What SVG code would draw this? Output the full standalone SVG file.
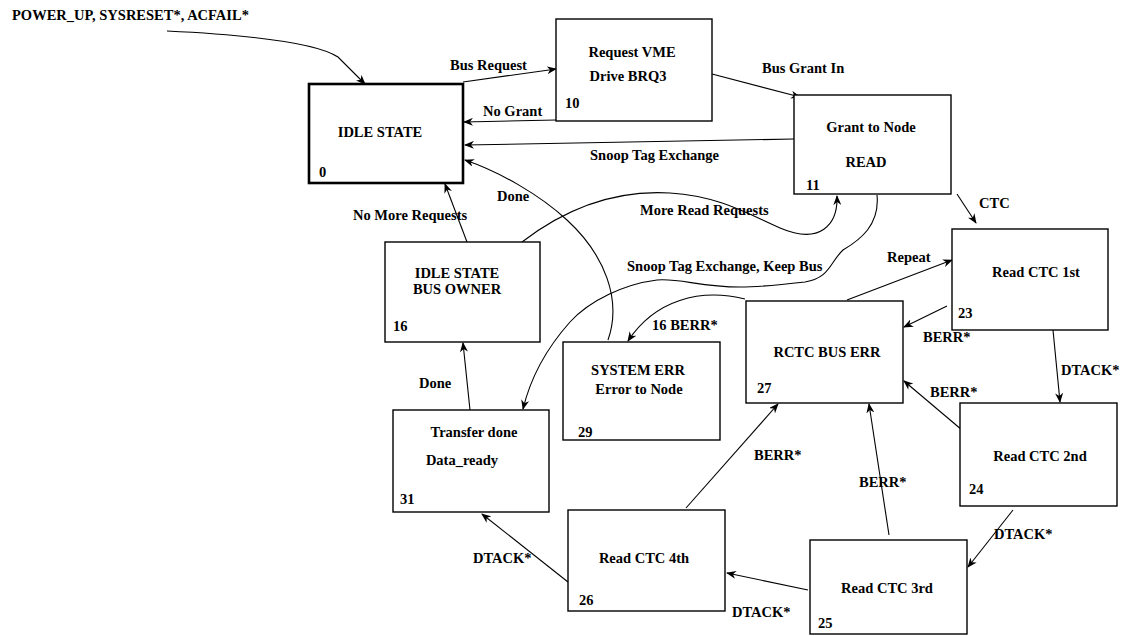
<svg xmlns="http://www.w3.org/2000/svg" width="1132" height="636" viewBox="0 0 1132 636">
<style>
.box{fill:#fff;stroke:#000;stroke-width:1.4}
.thick{stroke-width:2.6}
text{font-family:"Liberation Serif","Times New Roman",serif;font-weight:bold;font-size:14.5px;fill:#000}
.c{text-anchor:middle}
.e{fill:none;stroke:#000;stroke-width:1.1;marker-end:url(#ah)}
</style>
<defs>
<marker id="ah" viewBox="0 0 10 8" refX="9" refY="4" markerWidth="10" markerHeight="8" markerUnits="userSpaceOnUse" orient="auto">
<path d="M0,0 L10,4 L0,8 L3,4 z" fill="#000"/>
</marker>
</defs>
<rect width="1132" height="636" fill="#fff"/>
<g id="connectors">
<path class="e" d="M167,31 C250,35 315,42 338,57 L365,84"/>
<path class="e" d="M463,82 L556,69"/>
<path class="e" d="M556,120 L464,122"/>
<path class="e" d="M794,139 L465,145"/>
<path class="e" d="M712,74 L800,97"/>
<path class="e" d="M957,194 L976,223"/>
<path class="e" d="M608,340 C622,300 605,255 567,220 C540,195 500,172 465,160"/>
<path class="e" d="M467,242 L445,184"/>
<path class="e" d="M522,242 C570,205 620,190 670,193 C720,196 750,215 780,228 C820,245 838,225 837,196"/>
<path class="e" d="M877,195 C880,225 860,240 843,250 C830,262 830,278 805,282 C770,286 760,287 740,287 C700,287 680,278 657,280 C625,284 590,300 570,322 C545,350 530,380 523,409"/>
<path class="e" d="M745,299 C700,288 655,300 628,341"/>
<path class="e" d="M847,300 L952,260"/>
<path class="e" d="M947,306 L904,327"/>
<path class="e" d="M1053,330 L1060,402"/>
<path class="e" d="M962,430 L904,381"/>
<path class="e" d="M889,535 L869,404"/>
<path class="e" d="M1013,510 L968,567"/>
<path class="e" d="M808,590 L727,573"/>
<path class="e" d="M686,508 L778,404"/>
<path class="e" d="M568,582 L482,514"/>
<path class="e" d="M470,410 L463,343"/>
</g>
<g id="labels">
<text x="12" y="20">POWER_UP, SYSRESET*, ACFAIL*</text>
<text x="450" y="70">Bus Request</text>
<text x="483" y="116">No Grant</text>
<text x="590" y="160">Snoop Tag Exchange</text>
<text x="762" y="73">Bus Grant In</text>
<text x="979" y="208">CTC</text>
<text x="497" y="201">Done</text>
<text x="353" y="220">No More Requests</text>
<text x="640" y="215">More Read Requests</text>
<text x="627" y="271">Snoop Tag Exchange, Keep Bus</text>
<text x="887" y="262">Repeat</text>
<text x="923" y="342">BERR*</text>
<text x="652" y="330">16 BERR*</text>
<text x="1061" y="375">DTACK*</text>
<text x="930" y="397">BERR*</text>
<text x="859" y="487">BERR*</text>
<text x="994" y="539">DTACK*</text>
<text x="732" y="617">DTACK*</text>
<text x="754" y="460">BERR*</text>
<text x="473" y="563">DTACK*</text>
<text x="419" y="388">Done</text>
</g>
<g id="n0"><rect class="box thick" x="309" y="84" width="154" height="99"/><text class="c" x="380" y="137">IDLE STATE</text><text x="319" y="177">0</text></g>
<g id="n10"><rect class="box" x="556" y="19" width="156" height="102"/><text class="c" x="632" y="57">Request VME</text><text class="c" x="628" y="81">Drive BRQ3</text><text x="565" y="108">10</text></g>
<g id="n11"><rect class="box" x="794" y="95" width="157" height="99"/><text class="c" x="871" y="132">Grant to Node</text><text class="c" x="866" y="167">READ</text><text x="806" y="190">11</text></g>
<g id="n23"><rect class="box" x="952" y="229" width="156" height="101"/><text class="c" x="1036" y="277">Read CTC 1st</text><text x="958" y="318">23</text></g>
<g id="n16"><rect class="box" x="385" y="242" width="155" height="100"/><text class="c" x="457" y="278">IDLE STATE</text><text class="c" x="457" y="294">BUS OWNER</text><text x="393" y="331">16</text></g>
<g id="n29"><rect class="box" x="563" y="342" width="157" height="98"/><text class="c" x="638" y="375">SYSTEM ERR</text><text class="c" x="639" y="394">Error to Node</text><text x="578" y="437">29</text></g>
<g id="n27"><rect class="box" x="746" y="301" width="157" height="102"/><text class="c" x="827" y="357">RCTC BUS ERR</text><text x="757" y="393">27</text></g>
<g id="n31"><rect class="box" x="393" y="410" width="156" height="102"/><text class="c" x="474" y="437">Transfer done</text><text class="c" x="462" y="465">Data_ready</text><text x="400" y="504">31</text></g>
<g id="n24"><rect class="box" x="960" y="403" width="157" height="103"/><text class="c" x="1040" y="461">Read CTC 2nd</text><text x="969" y="494">24</text></g>
<g id="n25"><rect class="box" x="810" y="540" width="157" height="94"/><text class="c" x="887" y="593">Read CTC 3rd</text><text x="818" y="628">25</text></g>
<g id="n26"><rect class="box" x="568" y="510" width="157" height="101"/><text class="c" x="644" y="563">Read CTC 4th</text><text x="579" y="605">26</text></g>
</svg>
